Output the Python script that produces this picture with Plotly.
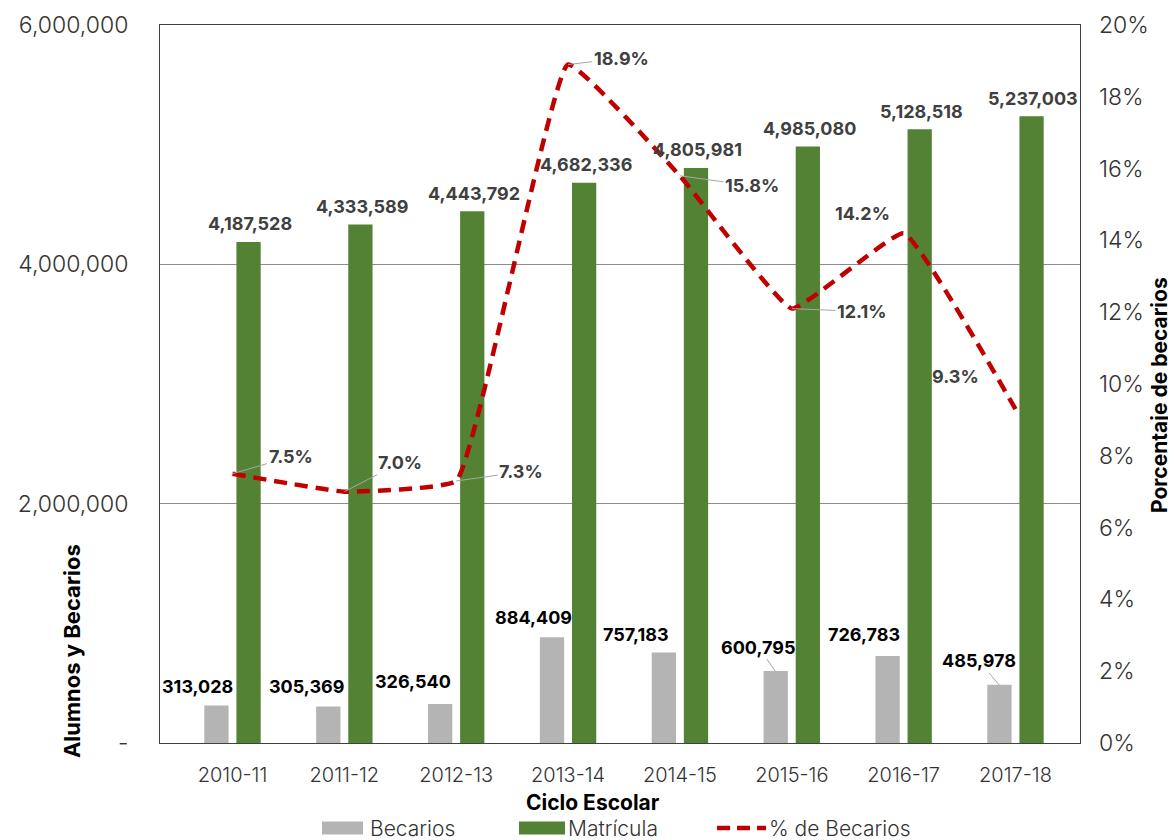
import plotly.graph_objects as go

# ---- data ----
ciclos = ["2010-11", "2011-12", "2012-13", "2013-14", "2014-15", "2015-16", "2016-17", "2017-18"]
becarios = [313028, 305369, 326540, 884409, 757183, 600795, 726783, 485978]
matricula = [4187528, 4333589, 4443792, 4682336, 4805981, 4985080, 5128518, 5237003]
pct_becarios = [0.075, 0.070, 0.073, 0.189, 0.158, 0.121, 0.142, 0.093]

left_tickvals = [0, 2000000, 4000000, 6000000]
left_ticktext = ["-", "2,000,000", "4,000,000", "6,000,000"]
right_tickvals = [0, 0.02, 0.04, 0.06, 0.08, 0.10, 0.12, 0.14, 0.16, 0.18, 0.20]
legend_names = ["Becarios", "Matrícula", "% de Becarios"]

# ---- styles ----
GRAY = "#b4b4b4"
GREEN = "#548235"
RED = "#C00000"
FONT = "Inter, Lato, sans-serif"
LBL_DARK = "#404040"

# label nudges (pixels) for the Becarios labels: (dx from category centre, dy above bar top, leader?)
bec_label_pos = [(-35, 19, False), (-38, 20, False), (-43, 22, False), (-35, 20, False),
                 (-44, 18, False), (-17, 24, True), (-40, 22, False), (-20, 24, True)]
# percentage label placement (dx, dy in px from point; leader?)
pct_label_pos = [(58, -17, True), (56, -29, True), (65, -9, True), (53, -6, True),
                 (72, 10, True), (70, 3, True), (-41, -20, False), (-60, -33, False)]

# plot-area geometry (px) used to convert legend placement to paper coords
PW, PH = 920, 718


def px_to_paper_x(dx):
    return dx / PW


def px_to_paper_y(dy):
    return dy / PH


fig = go.Figure()

fig.add_trace(go.Bar(x=ciclos, y=becarios, width=0.217, offset=-0.252,
                     marker=dict(color=GRAY, line=dict(width=0)), showlegend=False, name=legend_names[0]))
fig.add_trace(go.Bar(x=ciclos, y=matricula, width=0.217, offset=0.035,
                     marker=dict(color=GREEN, line=dict(width=0)), showlegend=False, name=legend_names[1]))
fig.add_trace(go.Scatter(x=ciclos, y=pct_becarios, yaxis="y2", mode="lines", name=legend_names[2],
                         showlegend=False,
                         line=dict(color=RED, width=4.5, dash="13px,8px", shape="spline", smoothing=0.3)))

LBL = 18
ann = []
# Matrícula labels
for c, v in zip(ciclos, matricula):
    ann.append(dict(x=c, y=v, xref="x", yref="y", text=f"{v:,}", showarrow=False,
                    xanchor="center", yanchor="middle", xshift=17.5, yshift=18,
                    font=dict(family=FONT, size=LBL, color=LBL_DARK, weight=700)))
# Becarios labels
for c, v, (dx, dy, lead) in zip(ciclos, becarios, bec_label_pos):
    if lead:
        ann.append(dict(x=c, y=v, xref="x", yref="y", text=f"{v:,}", showarrow=True,
                        arrowhead=0, arrowwidth=1, arrowcolor="#a6a6a6", standoff=0,
                        xshift=-16.5, ax=dx, ay=-dy, axref="pixel", ayref="pixel",
                        font=dict(family=FONT, size=LBL, color="#000000", weight=700)))
    else:
        ann.append(dict(x=c, y=v, xref="x", yref="y", text=f"{v:,}", showarrow=False,
                        xanchor="center", yanchor="middle", xshift=dx, yshift=dy,
                        font=dict(family=FONT, size=LBL, color="#000000", weight=700)))
# percentage labels
for c, v, (dx, dy, lead) in zip(ciclos, pct_becarios, pct_label_pos):
    txt = f"{v*100:.1f}%"
    if lead:
        ann.append(dict(x=c, y=v, xref="x", yref="y2", text=txt, showarrow=True,
                        arrowhead=0, arrowwidth=1, arrowcolor="#a6a6a6", standoff=0,
                        ax=dx, ay=dy, axref="pixel", ayref="pixel",
                        font=dict(family=FONT, size=LBL, color=LBL_DARK, weight=700)))
    else:
        ann.append(dict(x=c, y=v, xref="x", yref="y2", text=txt, showarrow=False,
                        xanchor="center", yanchor="middle", xshift=dx, yshift=-dy,
                        font=dict(family=FONT, size=LBL, color=LBL_DARK, weight=700)))

# axis titles
ann.append(dict(x=-0.0957, y=0.128, xref="paper", yref="paper", text="Alumnos y Becarios",
                textangle=-90, showarrow=False, xanchor="center", yanchor="middle",
                font=dict(family=FONT, size=22, color="#000000", weight=700)))
ann.append(dict(x=1.0870, y=0.4847, xref="paper", yref="paper", text="Porcentaje de becarios",
                textangle=-90, showarrow=False, xanchor="center", yanchor="middle",
                font=dict(family=FONT, size=21, color="#000000", weight=700)))
ann.append(dict(x=0.4707, y=-0.0822, xref="paper", yref="paper", text="Ciclo Escolar",
                showarrow=False, xanchor="center", yanchor="middle",
                font=dict(family=FONT, size=21, color="#000000", weight=700)))

# ---- hand-built legend below the axis title (px relative to the plot area) ----
leg_y = px_to_paper_y(-85)          # 85 px below the plot bottom
sw_half_h = px_to_paper_y(6.5)
shapes = []
shapes.append(dict(type="rect", xref="paper", yref="paper",
                   x0=px_to_paper_x(162), x1=px_to_paper_x(203), y0=leg_y - sw_half_h, y1=leg_y + sw_half_h,
                   fillcolor=GRAY, line=dict(width=0)))
shapes.append(dict(type="rect", xref="paper", yref="paper",
                   x0=px_to_paper_x(359), x1=px_to_paper_x(405), y0=leg_y - sw_half_h, y1=leg_y + sw_half_h,
                   fillcolor=GREEN, line=dict(width=0)))
shapes.append(dict(type="line", xref="paper", yref="paper",
                   x0=px_to_paper_x(557), x1=px_to_paper_x(606), y0=leg_y, y1=leg_y,
                   line=dict(color=RED, width=4.5, dash="13px,7px")))
for name, xs in zip(legend_names, [208, 406, 607]):
    ann.append(dict(x=px_to_paper_x(xs), y=leg_y, xref="paper", yref="paper", text=name,
                    showarrow=False, xanchor="left", yanchor="middle",
                    font=dict(family=FONT, size=21, color="#333333", weight=300)))

fig.update_layout(
    width=1168, height=840,
    margin=dict(l=152, r=96, t=17, b=105, autoexpand=False),
    paper_bgcolor="white", plot_bgcolor="white",
    barmode="overlay",
    showlegend=False,
    font=dict(family=FONT, color="#333333"),
    xaxis=dict(type="category", showline=True, linecolor="#404040", linewidth=1, mirror=True,
               showgrid=False, ticks="", ticklabelstandoff=14, automargin=False,
               tickfont=dict(family=FONT, size=20, color="#333333", weight=300)),
    yaxis=dict(range=[0, 6000000], tickvals=left_tickvals, ticktext=left_ticktext,
               showline=True, linecolor="#404040", linewidth=1, mirror=True,
               showgrid=True, gridcolor="#8c8c8c", gridwidth=1, zeroline=False,
               ticks="", ticklabelstandoff=26, automargin=False,
               tickfont=dict(family=FONT, size=23, color="#333333", weight=300)),
    yaxis2=dict(range=[0, 0.2], tickvals=right_tickvals, tickformat=".0%", overlaying="y",
                side="right", showgrid=False, zeroline=False, showline=False, ticks="",
                ticklabelstandoff=18, automargin=False,
                tickfont=dict(family=FONT, size=23, color="#333333", weight=300)),
    shapes=shapes,
    annotations=ann,
)

fig.write_html("out.html")
